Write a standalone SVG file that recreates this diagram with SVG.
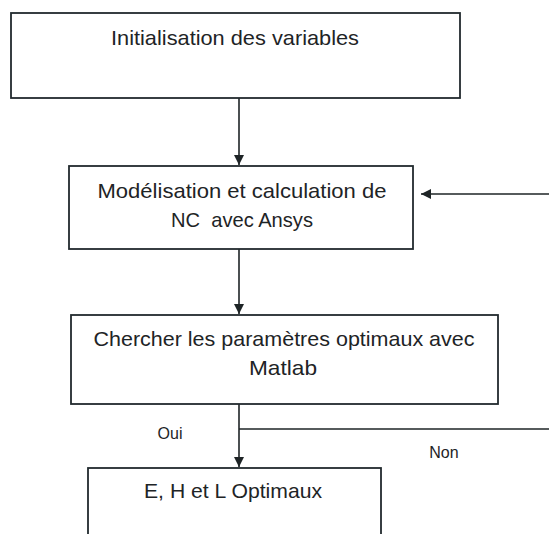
<svg xmlns="http://www.w3.org/2000/svg" width="549" height="534" viewBox="0 0 549 534">
<style>
.box{fill:#ffffff;stroke:#222a2e;stroke-width:1.8}
.t{font-family:"Liberation Sans",Arial,sans-serif;font-size:21px;fill:#1e2426;text-anchor:middle;white-space:pre}
.s{font-family:"Liberation Sans",Arial,sans-serif;font-size:16px;fill:#1e2426;text-anchor:middle}
.ln{fill:none;stroke:#1e2426;stroke-width:1.6}
</style>
<defs>
<marker id="ah" viewBox="0 0 10 10" refX="10" refY="5" markerWidth="10" markerHeight="10" markerUnits="userSpaceOnUse" orient="auto">
<path d="M0,0 L10,5 L0,10 Z" fill="#1e2426"/>
</marker>
</defs>
<rect width="549" height="534" fill="#ffffff"/>
<g id="connectors">
<line class="ln" x1="239" y1="98" x2="239" y2="165" marker-end="url(#ah)"/>
<line class="ln" x1="239" y1="249" x2="239" y2="314" marker-end="url(#ah)"/>
<line class="ln" x1="239" y1="404" x2="239" y2="467" marker-end="url(#ah)"/>
<line class="ln" x1="239" y1="429" x2="549" y2="429"/>
<line class="ln" x1="549" y1="194" x2="421" y2="194" marker-end="url(#ah)"/>
<text class="s" x="170" y="439">Oui</text>
<text class="s" x="444" y="458">Non</text>
</g>
<g id="n1">
<rect class="box" x="11" y="13" width="449" height="85"/>
<text class="t" x="235" y="45" textLength="248" lengthAdjust="spacingAndGlyphs">Initialisation des variables</text>
</g>
<g id="n2">
<rect class="box" x="69" y="166" width="344" height="83"/>
<text class="t" x="242" y="198" textLength="289" lengthAdjust="spacingAndGlyphs">Modélisation et calculation de</text>
<text class="t" x="242" y="227" textLength="142" lengthAdjust="spacingAndGlyphs">NC  avec Ansys</text>
</g>
<g id="n3">
<rect class="box" x="71" y="315" width="427" height="89"/>
<text class="t" x="284" y="346" textLength="381" lengthAdjust="spacingAndGlyphs">Chercher les paramètres optimaux avec</text>
<text class="t" x="283" y="375" textLength="68" lengthAdjust="spacingAndGlyphs">Matlab</text>
</g>
<g id="n4">
<rect class="box" x="88" y="468" width="293" height="80"/>
<text class="t" x="233" y="498" textLength="178" lengthAdjust="spacingAndGlyphs">E, H et L Optimaux</text>
</g>
</svg>
